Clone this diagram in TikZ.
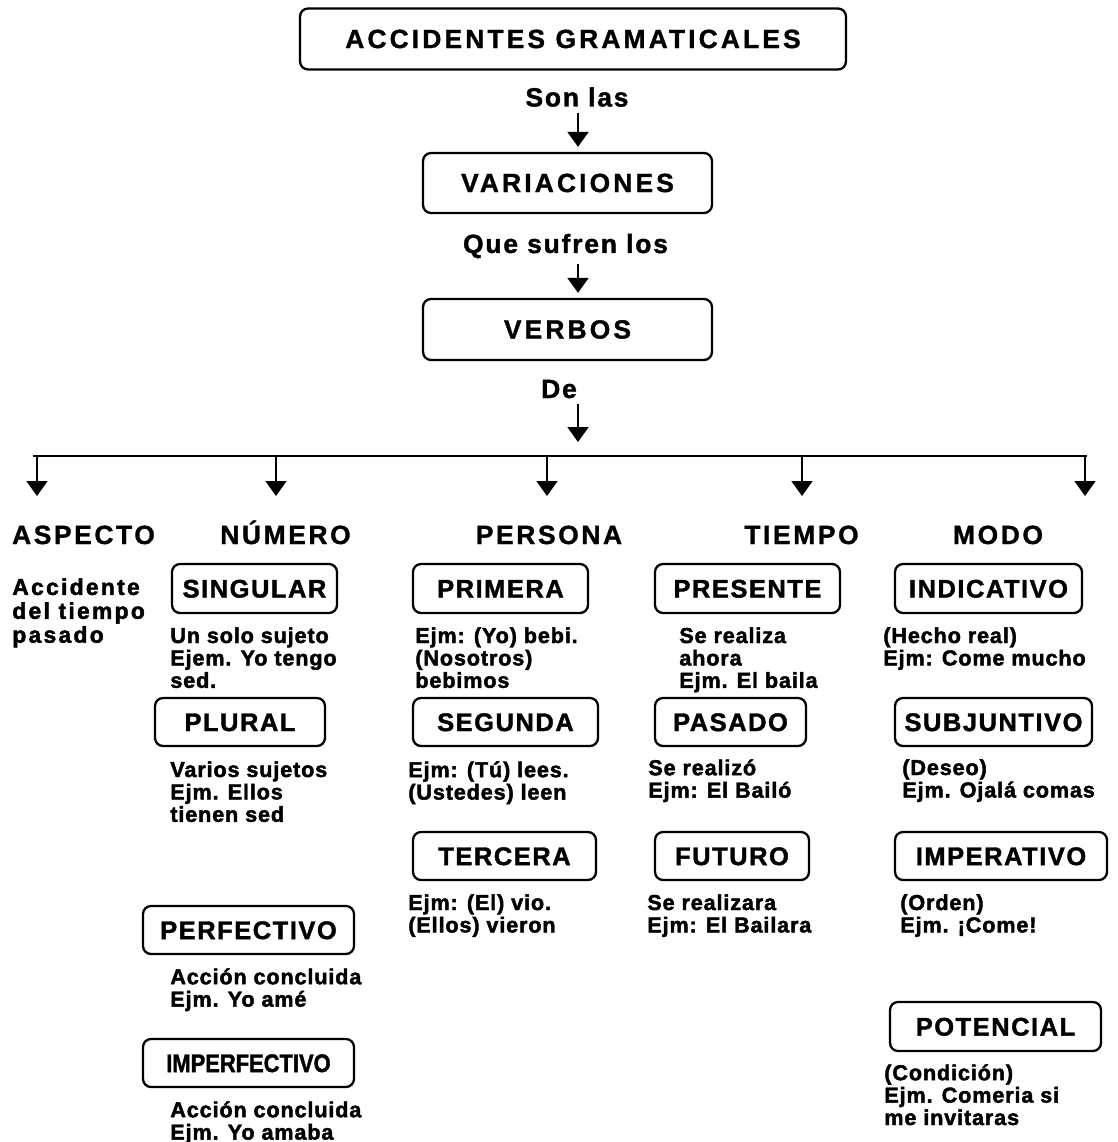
\documentclass[tikz,border=0pt]{standalone}
\usepackage{fontspec}
\setmainfont{Liberation Sans}
\usetikzlibrary{arrows.meta}

\begin{document}
\begin{tikzpicture}[
    x=0.02cm,y=-0.02cm,
    head/.style={font=\fontsize{15}{17}\selectfont\bfseries\addfontfeature{LetterSpace=12,FakeBold=1.2}},
    link/.style={font=\fontsize{15}{17}\selectfont\bfseries\addfontfeature{LetterSpace=7,FakeBold=1.5}},
    cat/.style={font=\fontsize{15}{17}\selectfont\bfseries\addfontfeature{LetterSpace=10,FakeBold=1.2}},
    box/.style={draw,rounded corners=0.16cm,line width=1.3pt,inner sep=0pt,
                text height=10.3pt,text depth=0pt,
                font=\fontsize{14.5}{16}\selectfont\bfseries\addfontfeature{LetterSpace=6,FakeBold=1.5}},
    desc/.style={anchor=north west,inner sep=0pt,align=left,
                 font=\fontsize{12.3}{12.75}\selectfont\bfseries\addfontfeature{LetterSpace=4,FakeBold=2}},
    arr/.style={-{Triangle[width=0.42cm,length=0.3cm]},line width=1.1pt},
  ]
  \useasboundingbox (0,0) rectangle (1117,1142);

  % top chain
  \node[box,head,minimum width=10.92cm,minimum height=1.22cm] (acc) at (573,39) {ACCIDENTES GRAMATICALES};
  \node[link,anchor=base] (son) at (577,106.5) {Son las};
  \node[box,head,minimum width=5.78cm,minimum height=1.2cm] (var) at (567.5,183) {VARIACIONES};
  \node[link,anchor=base] (que) at (565.5,253) {Que sufren los};
  \node[box,head,minimum width=5.78cm,minimum height=1.22cm] (verb) at (567.5,329.5) {VERBOS};
  \node[link,anchor=base] (de) at (559,398) {De};

  \coordinate (spine) at (578,0);
  \draw[arr,shorten >=0.1cm] (son.south -| spine) -- (var.north -| spine);
  \draw[arr,shorten >=0.1cm] (que.south -| spine) -- (verb.north -| spine);

  % bar
  \coordinate (barW) at (33,456);
  \coordinate (barE) at (1087,456);
  \draw[line width=1.7pt] (barW) -- (barE);
  \draw[arr,shorten >=0.28cm] (de.south -| spine) -- (barW -| spine);
  \foreach \x in {37,276,547,802,1085}
    \draw[arr] (barW -| \x,0) -- ++(0,40);

  % categories
  \node[cat,anchor=base] (aspecto) at (83.5,544) {ASPECTO};
  \node[cat,anchor=base] (numero) at (285.5,544) {NÚMERO};
  \node[cat,anchor=base] (persona) at (549,544) {PERSONA};
  \node[cat,anchor=base] (tiempo) at (801.5,544) {TIEMPO};
  \node[cat,anchor=base] (modo) at (998,544) {MODO};

  % aspecto
  \node[desc,font=\fontsize{13}{13.6}\selectfont\bfseries\addfontfeature{LetterSpace=10,FakeBold=2}] (asp-d) at (12,578)
    {Accidente\\del tiempo\\pasado};

  % numero
  \node[box,minimum width=3.3cm,minimum height=0.98cm] (sing) at (254.5,588.5) {SINGULAR};
  \node[desc] (sing-d) at (170,627) {Un solo sujeto\\Ejem. Yo tengo\\sed.};
  \node[box,minimum width=3.4cm,minimum height=0.96cm] (plur) at (240,722) {PLURAL};
  \node[desc] (plur-d) at (170,761) {Varios sujetos\\Ejm. Ellos\\tienen sed};
  \node[box,minimum width=4.22cm,minimum height=0.96cm] (perf) at (248.5,930) {PERFECTIVO};
  \node[desc] (perf-d) at (170,968) {Acción concluida\\Ejm. Yo amé};
  \node[box,minimum width=4.22cm,minimum height=0.96cm,
        font=\fontsize{14.5}{16}\selectfont\bfseries\addfontfeature{LetterSpace=0,FakeStretch=0.86,FakeBold=1.5}] (imperf) at (248.5,1063) {IMPERFECTIVO};
  \node[desc] (imperf-d) at (170,1101) {Acción concluida\\Ejm. Yo amaba};

  % persona
  \node[box,minimum width=3.5cm,minimum height=0.98cm] (prim) at (500.5,588.5) {PRIMERA};
  \node[desc] (prim-d) at (415,627) {Ejm: (Yo) bebi.\\(Nosotros)\\bebimos};
  \node[box,minimum width=3.7cm,minimum height=0.96cm] (seg) at (505.5,722) {SEGUNDA};
  \node[desc] (seg-d) at (408,761) {Ejm: (Tú) lees.\\(Ustedes) leen};
  \node[box,minimum width=3.66cm,minimum height=0.96cm] (ter) at (504.5,856) {TERCERA};
  \node[desc] (ter-d) at (408,894) {Ejm: (El) vio.\\(Ellos) vieron};

  % tiempo
  \node[box,minimum width=3.7cm,minimum height=0.98cm] (pres) at (747.5,588.5) {PRESENTE};
  \node[desc] (pres-d) at (679,627) {Se realiza\\ahora\\Ejm. El baila};
  \node[box,minimum width=3.02cm,minimum height=0.96cm] (pas) at (730.5,722) {PASADO};
  \node[desc] (pas-d) at (648,759) {Se realizó\\Ejm: El Bailó};
  \node[box,minimum width=3.08cm,minimum height=0.96cm] (fut) at (732,856) {FUTURO};
  \node[desc] (fut-d) at (647,894) {Se realizara\\Ejm: El Bailara};

  % modo
  \node[box,minimum width=3.74cm,minimum height=0.98cm] (ind) at (988.5,588.5) {INDICATIVO};
  \node[desc] (ind-d) at (883,627) {(Hecho real)\\Ejm: Come mucho};
  \node[box,minimum width=3.94cm,minimum height=0.96cm] (sub) at (993.5,722) {SUBJUNTIVO};
  \node[desc] (sub-d) at (902,759) {(Deseo)\\Ejm. Ojalá comas};
  \node[box,minimum width=4.24cm,minimum height=0.96cm] (imp) at (1001,856) {IMPERATIVO};
  \node[desc] (imp-d) at (900,894) {(Orden)\\Ejm. ¡Come!};
  \node[box,minimum width=4.22cm,minimum height=0.98cm] (pot) at (995.5,1026.5) {POTENCIAL};
  \node[desc] (pot-d) at (884,1064) {(Condición)\\Ejm. Comeria si\\me invitaras};
\end{tikzpicture}
\end{document}
